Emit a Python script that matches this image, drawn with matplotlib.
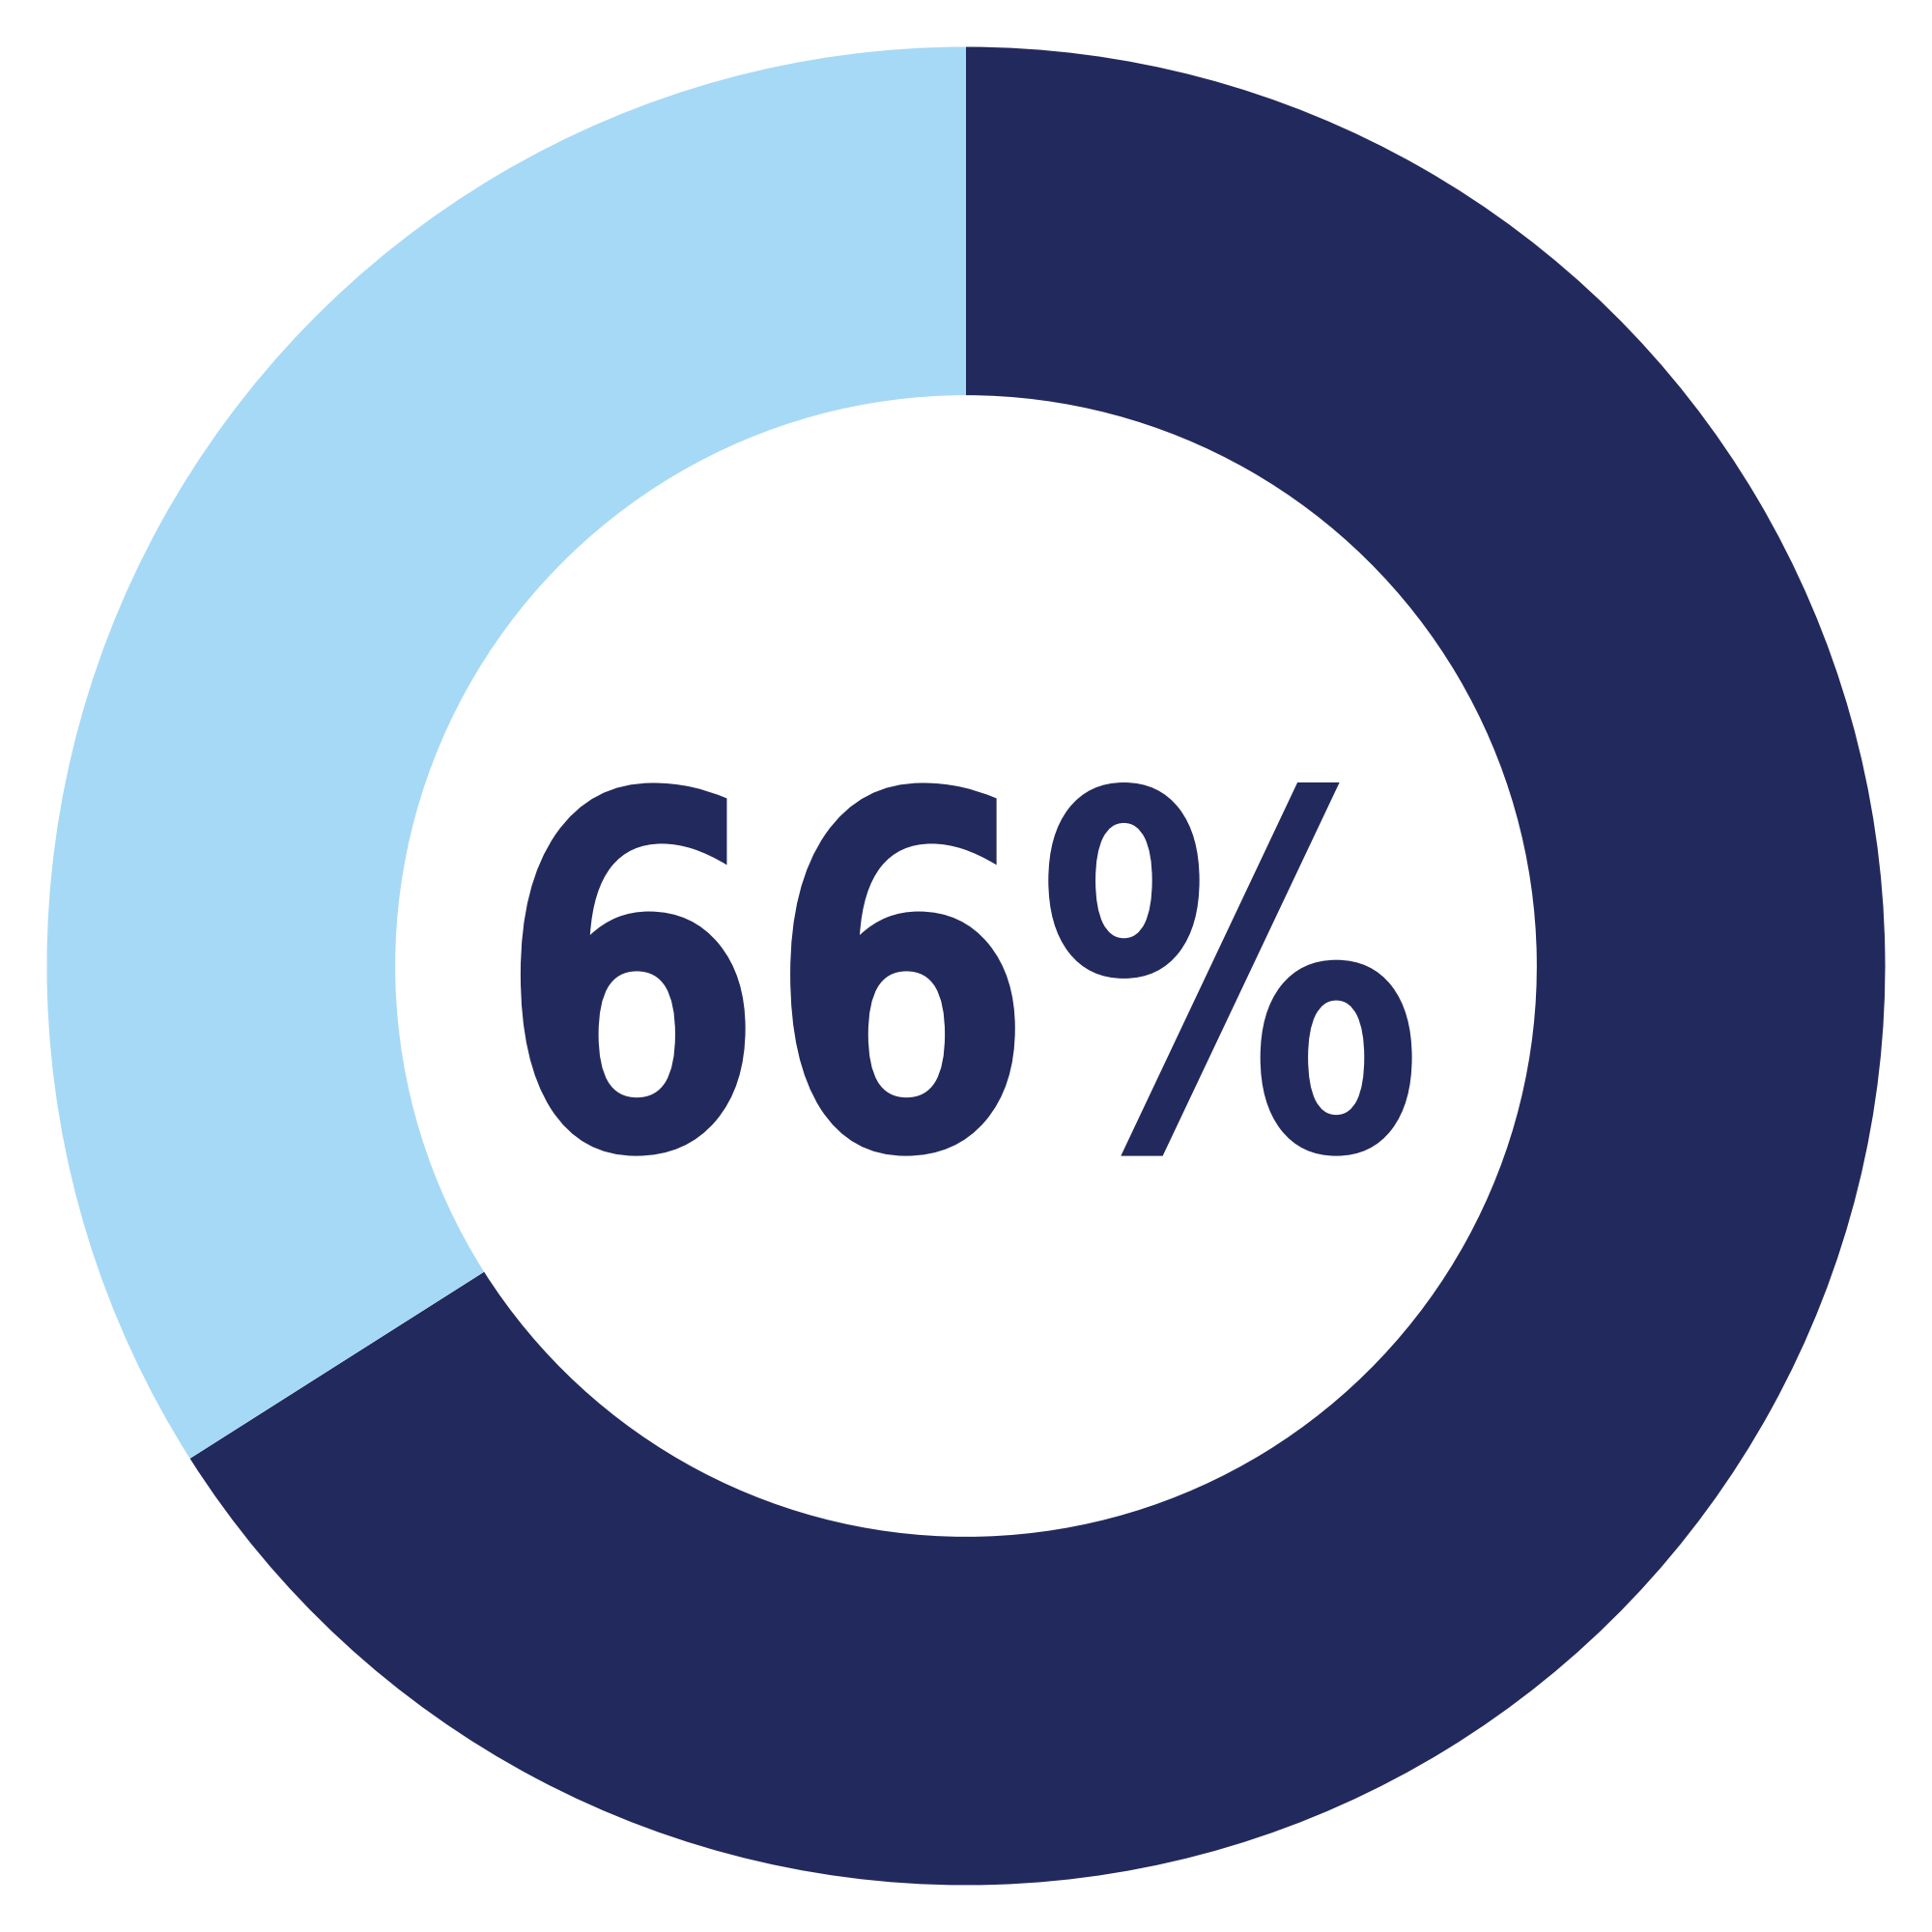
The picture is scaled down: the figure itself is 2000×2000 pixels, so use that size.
import matplotlib
matplotlib.use("Agg")
import matplotlib.pyplot as plt
from matplotlib.patheffects import AbstractPathEffect
from matplotlib.transforms import Affine2D

# ── Data ──────────────────────────────────────────────
labels = ["Yes", "No"]
shares = [66, 34]
colors = ["#22295C", "#A6D9F5"]
center_label = "66%"


class Squeeze(AbstractPathEffect):
    """Narrow the glyphs horizontally around a display x position."""
    def __init__(self, sx, cx):
        super().__init__()
        self.sx = sx
        self.cx = cx

    def draw_path(self, renderer, gc, tpath, affine, rgbFace=None):
        squeeze = Affine2D().translate(-self.cx, 0).scale(self.sx, 1).translate(self.cx, 0)
        renderer.draw_path(gc, tpath, affine + squeeze, rgbFace)


# ── Figure ────────────────────────────────────────────
fig = plt.figure(figsize=(20, 20), dpi=100)
ax = fig.add_axes([0, 0, 1, 1])

ax.pie(
    shares,
    colors=colors,
    startangle=90,
    counterclock=False,
    radius=1.0,
    wedgeprops=dict(width=0.379, linewidth=0),
)

lim = 1.051
ax.set_xlim(-lim, lim)
ax.set_ylim(-lim, lim)
ax.set_aspect("equal")
ax.axis("off")

txt = ax.text(-0.006, -0.199, center_label, ha="center", va="baseline",
              fontsize=368, fontweight="bold", family="DejaVu Sans",
              color=colors[0])
cx = ax.transData.transform((-0.006, 0))[0]
txt.set_path_effects([Squeeze(0.785, cx)])

fig.savefig("out.png", dpi=100, facecolor="white")
